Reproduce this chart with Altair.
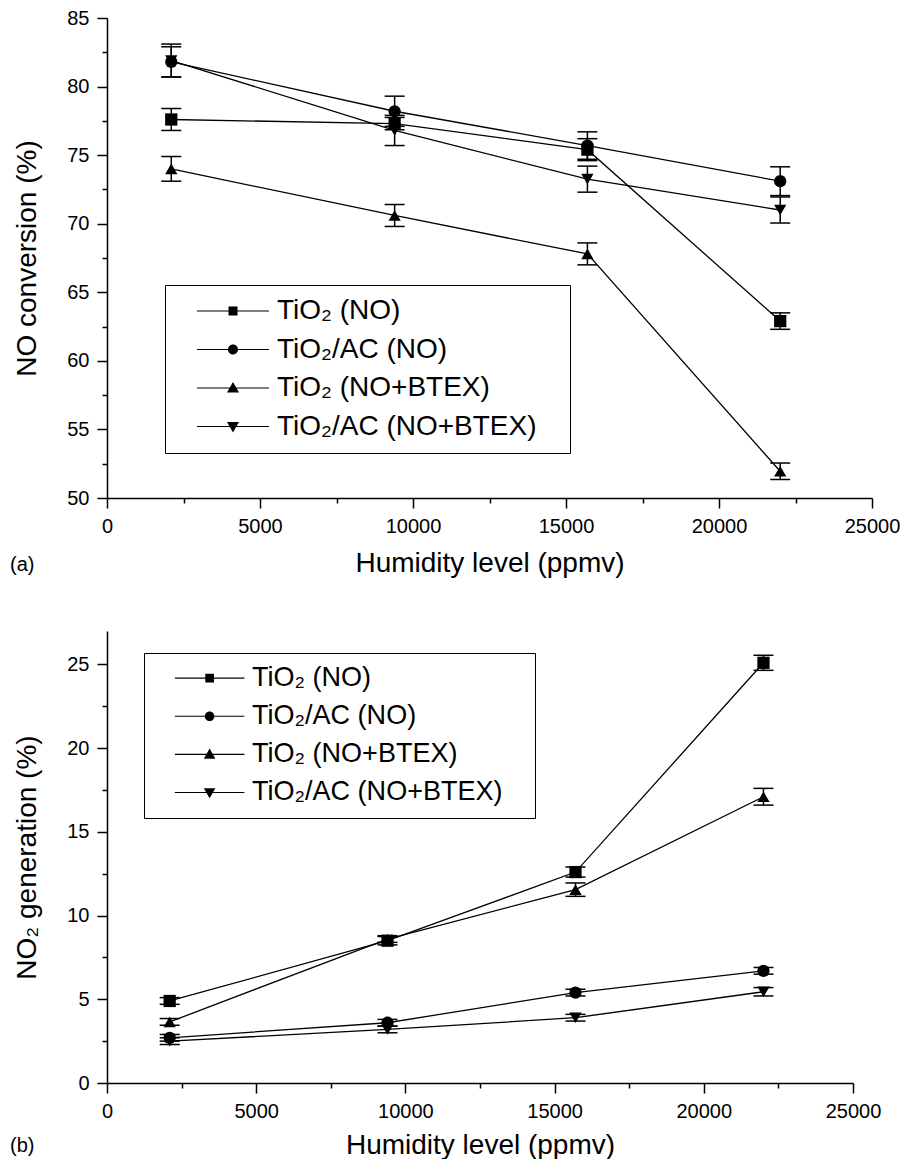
import altair as alt
import pandas as pd

# ---------------- data ----------------
humidity = [2100, 9400, 15700, 22000]
series_names = ["TiO₂ (NO)", "TiO₂/AC (NO)", "TiO₂ (NO+BTEX)", "TiO₂/AC (NO+BTEX)"]

# (a) NO conversion (%)
conv_tio2_no = [77.6, 77.3, 75.4, 62.9]
conv_tio2_no_err = [0.8, 0.45, 0.8, 0.6]
conv_tio2ac_no = [81.8, 78.2, 75.7, 73.1]
conv_tio2ac_no_err = [1.1, 1.1, 1.0, 1.05]
conv_tio2_btex = [74.0, 70.6, 67.8, 51.95]
conv_tio2_btex_err = [0.9, 0.8, 0.8, 0.6]
conv_tio2ac_btex = [81.9, 76.8, 73.25, 71.0]
conv_tio2ac_btex_err = [1.2, 1.1, 0.95, 0.95]

# (b) NO2 generation (%)
gen_tio2_no = [4.9, 8.5, 12.6, 25.1]
gen_tio2_no_err = [0.2, 0.25, 0.3, 0.45]
gen_tio2ac_no = [2.7, 3.6, 5.4, 6.7]
gen_tio2ac_no_err = [0.2, 0.2, 0.2, 0.2]
gen_tio2_btex = [3.65, 8.6, 11.55, 17.1]
gen_tio2_btex_err = [0.2, 0.2, 0.4, 0.5]
gen_tio2ac_btex = [2.5, 3.2, 3.9, 5.45]
gen_tio2ac_btex_err = [0.2, 0.2, 0.2, 0.25]

x_major = [0, 5000, 10000, 15000, 20000, 25000]
x_minor = [2500, 7500, 12500, 17500, 22500]
y_major_a = [50, 55, 60, 65, 70, 75, 80, 85]
y_minor_a = [52.5, 57.5, 62.5, 67.5, 72.5, 77.5, 82.5]
y_major_b = [0, 5, 10, 15, 20, 25]
y_minor_b = [2.5, 7.5, 12.5, 17.5, 22.5]

FONT = "Liberation Sans"
shapes = ["square", "circle", "triangle-up", "triangle-down"]
# legend symbols: thin line with the marker in the middle (units = sqrt(size)/2 px)
LINE = "M-3.6,-0.06H3.6V0.06H-3.6Z"
legend_paths = [
    LINE + "M-0.45,-0.45H0.45V0.45H-0.45Z",
    LINE + "M-0.5,0A0.5,0.5,0,1,1,0.5,0A0.5,0.5,0,1,1,-0.5,0Z",
    LINE + "M0,-0.6L0.6,0.45H-0.6Z",
    LINE + "M0,0.6L-0.6,-0.45H0.6Z",
]


def make_df(values, errs):
    rows = []
    for name, vals, es in zip(series_names, values, errs):
        for h, v, e in zip(humidity, vals, es):
            rows.append({"series": name, "h": h, "v": v, "lo": v - e, "hi": v + e})
    return pd.DataFrame(rows)


def panel(df, ydomain, ymajor, yminor, ytitle, w, h, legx, legy, k, tag, tag_dy, xtitle_pad):
    xs = alt.Scale(domain=[0, 25000], nice=False, zero=False)
    ys = alt.Scale(domain=ydomain, nice=False, zero=False)
    base = alt.Chart(df)

    xmain = alt.X("h:Q", scale=xs, axis=alt.Axis(
        values=x_major, format="d", tickSize=10, orient="bottom",
        title="Humidity level (ppmv)", titlePadding=xtitle_pad, labelPadding=8, labelFlush=False))
    ymain = alt.Y("v:Q", scale=ys, axis=alt.Axis(
        values=ymajor, tickSize=10, orient="left", title=ytitle,
        titlePadding=25, labelPadding=8))
    xnone = alt.X("h:Q", scale=xs, axis=None)

    lines = base.mark_line(color="black", strokeWidth=1.3).encode(
        x=xnone, y=alt.Y("v:Q", scale=ys, axis=None),
        detail="series:N", order="h:Q")

    bars = base.mark_rule(color="black", strokeWidth=1.5).encode(
        x=alt.X("h:Q", scale=xs, axis=alt.Axis(
            values=x_minor, tickSize=5, labels=False, domain=False, title=None, orient="bottom")),
        y=alt.Y("lo:Q", scale=ys, axis=alt.Axis(
            values=yminor, tickSize=5, labels=False, domain=False, title=None, orient="left")),
        y2="hi:Q")
    cap_lo = base.mark_tick(orient="horizontal", size=20, thickness=1.5, color="black", opacity=1).encode(
        x=xnone, y=alt.Y("lo:Q", scale=ys, axis=None))
    cap_hi = base.mark_tick(orient="horizontal", size=20, thickness=1.5, color="black", opacity=1).encode(
        x=xnone, y=alt.Y("hi:Q", scale=ys, axis=None))

    points = base.mark_point(filled=True, color="black", opacity=1, size=150).encode(
        x=xmain, y=ymain,
        shape=alt.Shape("series:N", scale=alt.Scale(domain=series_names, range=shapes), legend=None))

    legend_layer = base.transform_filter("false").mark_point(
        filled=True, color="black", opacity=1, strokeWidth=0).encode(
        x=xnone, y=alt.Y("v:Q", scale=ys, axis=None),
        shape=alt.Shape("series:N", scale=alt.Scale(domain=series_names, range=legend_paths),
                        legend=alt.Legend(
                            title=None, orient="none", legendX=legx, legendY=legy,
                            strokeColor="black", padding=12 * k, rowPadding=10.5 * k,
                            symbolSize=400 * k * k, symbolOffset=42 * k, labelOffset=30 * k,
                            symbolFillColor="black", symbolStrokeWidth=0,
                            labelFont=FONT, labelFontSize=28 * k, labelColor="black",
                            labelExpr="datum.label + '\u2800'", labelLimit=0)))

    tag_text = alt.Chart(pd.DataFrame({"t": [tag]})).mark_text(
        align="left", baseline="alphabetic", fontSize=20, font=FONT, color="black").encode(
        text="t:N", x=alt.value(-97), y=alt.value(h + tag_dy))

    return alt.layer(lines, bars, cap_lo, cap_hi, points, legend_layer, tag_text).resolve_scale(
        shape="independent").resolve_axis(x="independent", y="independent").properties(
        width=w, height=h)


df_a = make_df([conv_tio2_no, conv_tio2ac_no, conv_tio2_btex, conv_tio2ac_btex],
               [conv_tio2_no_err, conv_tio2ac_no_err, conv_tio2_btex_err, conv_tio2ac_btex_err])
df_b = make_df([gen_tio2_no, gen_tio2ac_no, gen_tio2_btex, gen_tio2ac_btex],
               [gen_tio2_no_err, gen_tio2ac_no_err, gen_tio2_btex_err, gen_tio2ac_btex_err])

top = panel(df_a, [50, 85], y_major_a, y_minor_a, "NO conversion (%)", 765, 480,
            58, 267, 1.0, "(a)", 73, 13)
bottom = panel(df_b, [0, 27], y_major_b, y_minor_b, "NO₂ generation (%)", 746, 452,
               37, 22, 0.965, "(b)", 69, 10)

chart = alt.vconcat(top, bottom, spacing=54).resolve_scale(
    shape="independent").resolve_legend(shape="independent").properties(
    padding={"left": 2, "top": 0, "right": 0, "bottom": 0}, background="white"
).configure_axis(
    labelFont=FONT, labelFontSize=20, labelColor="black",
    titleFont=FONT, titleFontSize=28, titleFontWeight="normal", titleColor="black",
    domainColor="black", domainWidth=1.5, tickColor="black", tickWidth=1.5, grid=False
).configure_view(stroke=None)

chart.save("out.html", embed_options={"renderer": "svg", "actions": False})
